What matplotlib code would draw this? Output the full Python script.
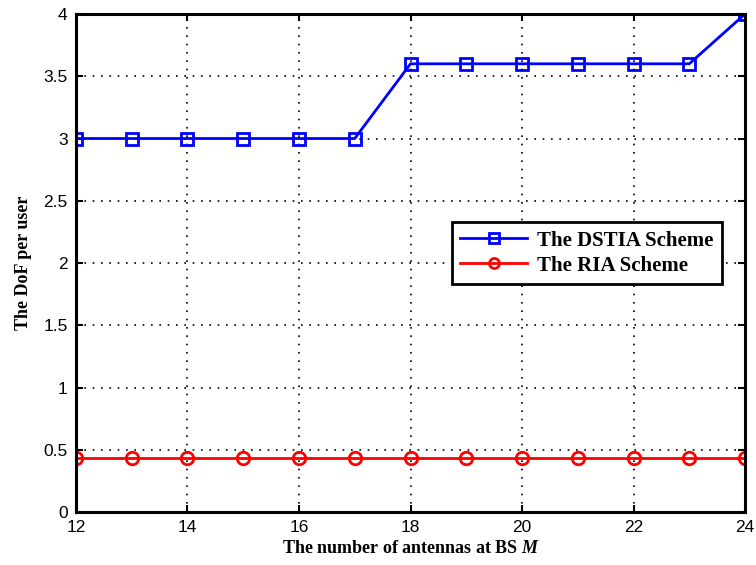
import matplotlib
matplotlib.use('Agg')
import matplotlib.pyplot as plt
import numpy as np

antennas = [12, 13, 14, 15, 16, 17, 18, 19, 20, 21, 22, 23, 24]
dof_dstia = [3, 3, 3, 3, 3, 3, 3.6, 3.6, 3.6, 3.6, 3.6, 3.6, 4]
dof_ria = [0.43] * 13

xticks = [12, 14, 16, 18, 20, 22, 24]
yticks = [0, 0.5, 1, 1.5, 2, 2.5, 3, 3.5, 4]
ytick_labels = ['0', '0.5', '1', '1.5', '2', '2.5', '3', '3.5', '4']

plt.rcParams['mathtext.fontset'] = 'custom'
plt.rcParams['mathtext.it'] = 'Liberation Serif:italic:bold'

fig = plt.figure(figsize=(7.56, 5.65), dpi=100)
ax = fig.add_axes([0.1005, 0.0938, 0.885, 0.8814])

ax.plot(antennas, dof_dstia, color='#0000ff', linewidth=2, marker='s', markersize=9,
        markerfacecolor='none', markeredgewidth=2, label='The DSTIA Scheme')
ax.plot(antennas, dof_ria, color='#ff0000', linewidth=2, marker='o', markersize=9,
        markerfacecolor='none', markeredgewidth=2, label='The RIA Scheme')

ax.set_xlim(12, 24)
ax.set_ylim(0, 4)
ax.set_xticks(xticks)
ax.set_yticks(yticks)
ax.set_yticklabels(ytick_labels)

# matlab-like dotted grid
ax.grid(True, linestyle=(0, (1, 4)), linewidth=1.2, color='black')
ax.tick_params(direction='in', length=5, width=1.5, labelsize=12.5, pad=6,
               top=True, right=True)
for lab in ax.get_xticklabels() + ax.get_yticklabels():
    lab.set_family('Liberation Sans')
for sp in ax.spines.values():
    sp.set_linewidth(2.2)

ax.set_xlabel('The number of antennas at BS $M$', fontsize=13,
              fontweight='bold', family='Liberation Serif', labelpad=3)
ax.set_ylabel('The DoF per user', fontsize=13, fontweight='bold',
              family='Liberation Serif', labelpad=8)

leg = ax.legend(loc='upper left', bbox_to_anchor=(0.562, 0.582), borderaxespad=0,
                fancybox=False, markerscale=0.8,
                prop={'family': 'Liberation Serif', 'weight': 'bold', 'size': 15},
                handlelength=3.2, handletextpad=0.5, borderpad=0.4,
                labelspacing=0.25, framealpha=1)
leg.get_frame().set_edgecolor('black')
leg.get_frame().set_linewidth(2)

fig.savefig('out.png', dpi=100)
